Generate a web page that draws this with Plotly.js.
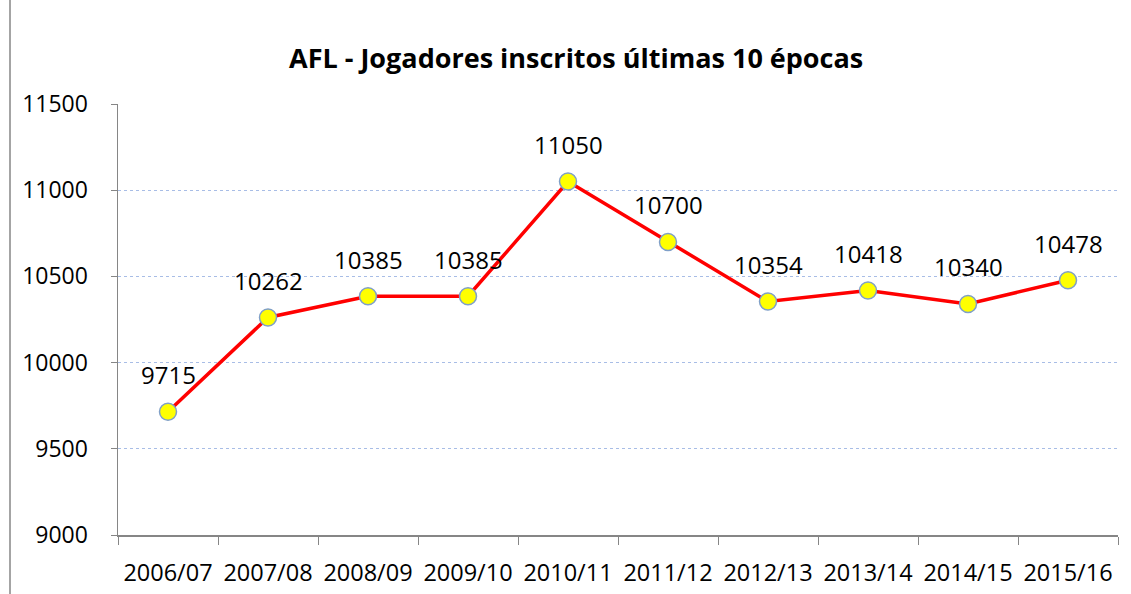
<!DOCTYPE html>
<html><head><meta charset="utf-8">
<script src="https://cdn.plot.ly/plotly-3.0.1.min.js"></script>
<style>html,body{margin:0;padding:0;background:#fff}</style>
</head><body>
<div id="chart" style="width:1131px;height:594px"></div>
<script>
const seasons = ["2006/07","2007/08","2008/09","2009/10","2010/11","2011/12","2012/13","2013/14","2014/15","2015/16"];
const players = [9715,10262,10385,10385,11050,10700,10354,10418,10340,10478];
const yTicks = [9000,9500,10000,10500,11000,11500];

const FONT = "Open Sans, Noto Sans, sans-serif";
const trace = {
  x: seasons, y: players, type: "scatter", mode: "lines+markers",
  line: {color: "#ff0000", width: 3.5},
  marker: {size: 17, color: "#ffff00", line: {color: "#7f9fc8", width: 1.5}},
  cliponaxis: false, hoverinfo: "skip"
};
const annotations = seasons.map((s, i) => ({
  x: s, y: players[i], xref: "x", yref: "y", text: String(players[i]),
  showarrow: false, yshift: 37, font: {family: FONT, size: 24, color: "#000"}
}));
annotations.push({
  text: "<b>AFL - Jogadores inscritos últimas 10 épocas</b>",
  xref: "paper", yref: "paper", x: 0.458, y: 1.0, yshift: 67, showarrow: false,
  font: {family: FONT, size: 27, color: "#000"}
});
const layout = {
  width: 1131, height: 594,
  margin: {l: 118, r: 13, t: 104, b: 59},
  paper_bgcolor: "#fff", plot_bgcolor: "#fff",
  showlegend: false,
  font: {family: FONT, size: 21, color: "#000"},
  xaxis: {
    type: "category", range: [-0.5, 9.5], tickson: "boundaries",
    ticks: "outside", ticklen: 8, tickcolor: "#868686", tickwidth: 1,
    showline: true, linecolor: "#868686", linewidth: 1.5,
    showgrid: false, zeroline: false, ticklabelstandoff: 16, tickangle: 0,
    tickfont: {family: FONT, size: 23.5, color: "#000"}
  },
  yaxis: {
    range: [9000, 11500], tickvals: yTicks, ticktext: yTicks.map(String),
    ticks: "outside", ticklen: 6, tickcolor: "#868686",
    showline: true, linecolor: "#868686", linewidth: 1.5,
    showgrid: true, gridcolor: "#a8bde6", griddash: "dot", gridwidth: 1,
    zeroline: false, ticklabelstandoff: 18,
    tickfont: {family: FONT, size: 23, color: "#000"}
  },
  annotations: annotations,
  shapes: [{type: "line", xref: "paper", yref: "paper", x0: -0.108, x1: -0.108, y0: -0.15, y1: 1.26,
            line: {color: "#868686", width: 1.5}}]
};
Plotly.newPlot("chart", [trace], layout, {displayModeBar: false, staticPlot: true});
</script>
</body></html>
